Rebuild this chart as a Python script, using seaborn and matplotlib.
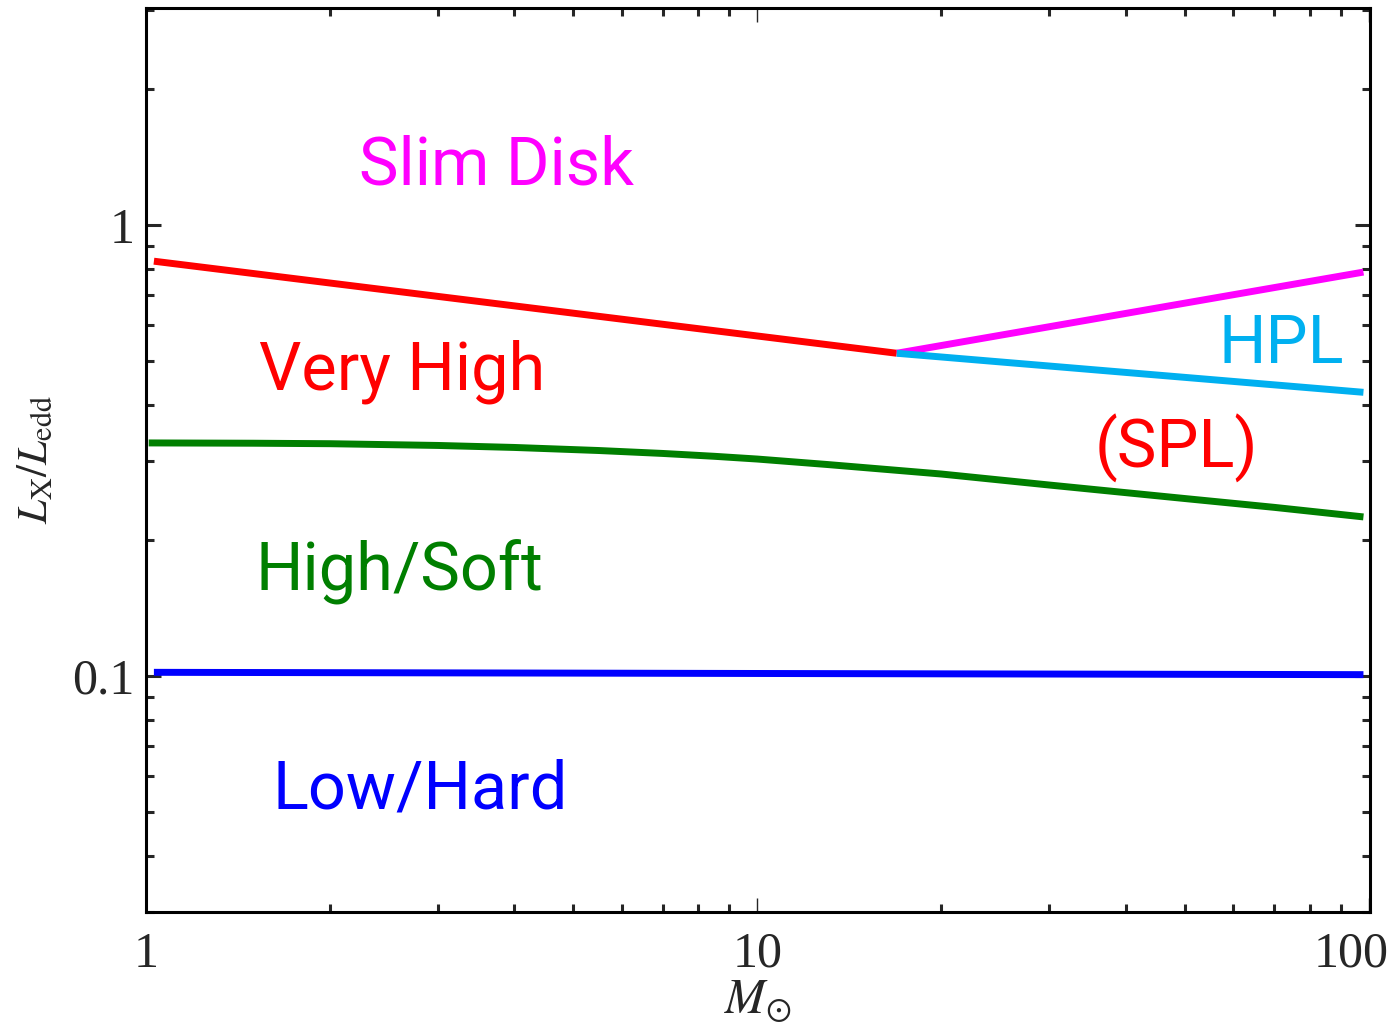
import numpy as np
import pandas as pd
import matplotlib
matplotlib.use("Agg")
import matplotlib.pyplot as plt
import matplotlib.transforms as mtransforms
import seaborn as sns
from matplotlib.ticker import LogLocator, FixedLocator, FixedFormatter, NullFormatter

# State boundaries in the mass / Eddington-ratio plane
red_mass = [1.03, 16.9]
red_ratio = [0.832, 0.52]

slim_mass = [16.9, 98.0]
slim_ratio = [0.52, 0.787]

hpl_mass = [16.9, 98.0]
hpl_ratio = [0.52, 0.426]

soft_mass = [1.01, 1.5, 2.0, 3.0, 4.0, 5.5, 7.0, 8.5, 10.0, 13.0, 20.0, 30.0, 50.0, 70.0, 98.0]
soft_ratio = [0.329, 0.3285, 0.3277, 0.3248, 0.3215, 0.3165, 0.3118, 0.3073, 0.303,
              0.2947, 0.2807, 0.2654, 0.2477, 0.2368, 0.2255]

hard_mass = [1.03, 98.0]
hard_ratio = [0.102, 0.1008]

x_ticks = [1, 10, 100]
x_tick_labels = ["1", "10", "100"]
y_ticks = [0.1, 1]
y_tick_labels = ["0.1", "1"]

sns.set_style("ticks")
plt.rcParams["font.family"] = ["Roboto", "DejaVu Sans"]
plt.rcParams["mathtext.fontset"] = "stix"

fig = plt.figure(figsize=(13.91, 10.28), dpi=100)
ax = fig.add_axes([0.105, 0.1128, 0.880, 0.8794])

series = [
    (red_mass, red_ratio, "#ff0000"),
    (slim_mass, slim_ratio, "#ff00ff"),
    (hpl_mass, hpl_ratio, "#00b0f0"),
    (soft_mass, soft_ratio, "#007f00"),
    (hard_mass, hard_ratio, "#0000ff"),
]
for xs, ys, col in series:
    df = pd.DataFrame({"mass": xs, "ratio": ys})
    sns.lineplot(data=df, x="mass", y="ratio", ax=ax, color=col, lw=5.0,
                 solid_capstyle="butt", sort=False)

ax.set_xscale("log")
ax.set_yscale("log")
ax.set_xlim(1, 100.5)
ax.set_ylim(0.03, 3.03)

for s in ax.spines.values():
    s.set_linewidth(2.2)
    s.set_color("black")

ax.xaxis.set_major_locator(FixedLocator(x_ticks))
ax.xaxis.set_major_formatter(FixedFormatter(x_tick_labels))
ax.yaxis.set_major_locator(FixedLocator(y_ticks))
ax.yaxis.set_major_formatter(FixedFormatter(y_tick_labels))
ax.xaxis.set_minor_locator(LogLocator(base=10, subs=np.arange(2, 10)))
ax.yaxis.set_minor_locator(LogLocator(base=10, subs=np.arange(2, 10)))
ax.xaxis.set_minor_formatter(NullFormatter())
ax.yaxis.set_minor_formatter(NullFormatter())

ax.tick_params(axis="x", which="major", direction="in", length=10, width=1,
               top=True, bottom=True, pad=14)
ax.tick_params(axis="y", which="major", direction="in", length=11, width=2.2,
               left=True, right=True, pad=8)
ax.tick_params(which="minor", direction="in", length=6, width=2.2,
               top=True, bottom=True, left=True, right=True)
fig.canvas.draw()
xlabels = ax.get_xticklabels()
for lab in xlabels + ax.get_yticklabels():
    lab.set_fontfamily("Liberation Serif")
    lab.set_fontsize(36)
# keep the rightmost tick label inside the canvas
shift = mtransforms.ScaledTranslation(-18 / 100, 0, fig.dpi_scale_trans)
xlabels[-1].set_transform(xlabels[-1].get_transform() + shift)

ax.set_xlabel(r"$M_{\odot}$", fontsize=35, labelpad=0)
ax.set_ylabel(r"$L_{\rm X}/L_{\rm edd}$", fontsize=31, labelpad=12)

label_size = 48
ax.text(2.233, 1.233, "Slim Disk", color="#ff00ff", fontsize=label_size, ha="left", va="baseline")
ax.text(1.531, 0.433, "Very High", color="#ff0000", fontsize=label_size, ha="left", va="baseline")
ax.text(56.8, 0.494, "HPL", color="#00b0f0", fontsize=label_size, ha="left", va="baseline")
ax.text(35.6, 0.2906, "(SPL)", color="#ff0000", fontsize=label_size, ha="left", va="baseline")
ax.text(1.508, 0.155, "High/Soft", color="#007f00", fontsize=label_size, ha="left", va="baseline")
ax.text(1.608, 0.051, "Low/Hard", color="#0000ff", fontsize=label_size, ha="left", va="baseline")

fig.savefig("out.png", dpi=100)
